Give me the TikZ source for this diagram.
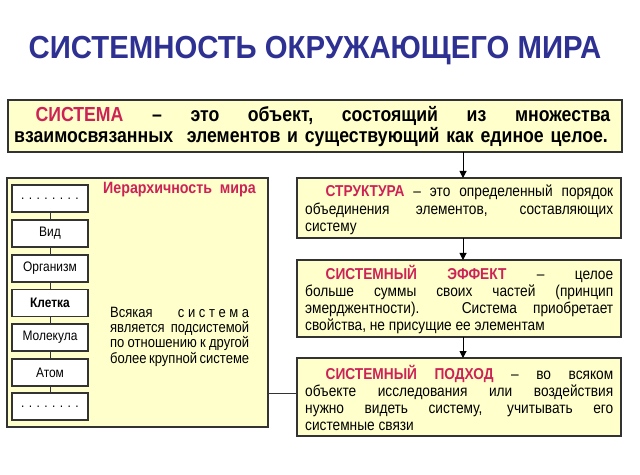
\documentclass[tikz,border=0pt]{standalone}
\usepackage{fontspec}
\setmainfont[FakeStretch=0.87]{Liberation Sans}
\newfontfamily\titlefont[FakeStretch=0.92]{Liberation Sans}
\usetikzlibrary{arrows.meta}
\definecolor{ttl}{HTML}{2E3192}
\definecolor{crim}{HTML}{CC2255}
\definecolor{boxfill}{HTML}{FFFFCC}
\definecolor{bord}{HTML}{333333}
\tikzset{
  panel/.style={draw=bord, line width=1.3bp, fill=boxfill},
  level/.style={draw=bord, line width=1.1bp, fill=white, minimum width=76bp, minimum height=27bp, inner sep=0pt, font=\fontsize{13.8}{15}\selectfont},
  link/.style={draw=bord, line width=1bp},
  arr/.style={draw=black, line width=1bp, -{Triangle[length=7bp,width=7bp]}},
  rtext/.style={text width=308bp, align=justify, inner sep=0pt, font=\fontsize{15.8}{17.2}\selectfont, anchor=north west},
}
\newcommand{\hl}[1]{{\color{crim}\bfseries #1}}
\begin{document}
\begin{tikzpicture}[x=1bp,y=-1bp]
\useasboundingbox (0,0) rectangle (640,475);
\fill[white] (0,0) rectangle (640,475);
% title
\node[font=\titlefont\fontsize{32}{34}\selectfont\bfseries, text=ttl, inner sep=0pt] (title) at (315,51) {СИСТЕМНОСТЬ ОКРУЖАЮЩЕГО МИРА};
% top box
\path[panel] (8,100) rectangle (622,152);
\node[inner sep=0pt, minimum width=614bp, minimum height=52bp, anchor=north west] (top) at (8,100) {};
\node[text width=596bp, align=left, inner sep=0pt, font=\fontsize{20.4}{21}\selectfont\bfseries, anchor=north west] (toptext) at (14,106)
 {\hspace*{1.05em}\hl{СИСТЕМА}\hfill–\hfill это\hfill объект,\hfill состоящий\hfill из\hfill множества\\
  взаимосвязанных\ \ элементов и существующий как единое целое.};
% left panel
\path[panel] (7,178) rectangle (268,427);
\node[inner sep=0pt, minimum width=261bp, minimum height=249bp, anchor=north west] (left) at (7,178) {};
\node[level] (l1) at (50,198.5) {. . . . . . . .};
\node[level] (l2) at (50,233.5) {Вид};
\node[level] (l3) at (50,268.5) {Организм};
\node[level, font=\fontsize{13.8}{15}\selectfont\bfseries] (l4) at (50,303) {Клетка};
\node[level] (l5) at (50,337.5) {Молекула};
\node[level] (l6) at (50,372.5) {Атом};
\node[level] (l7) at (50,406.5) {. . . . . . . .};
\draw[link] (l1) -- (l2) (l2) -- (l3) (l3) -- (l4) (l4) -- (l5) (l5) -- (l6) (l6) -- (l7);
\node[font=\fontsize{16.4}{18}\selectfont\bfseries, text=crim, inner sep=0pt, anchor=west] (hier) at (103,190) {Иерархичность\ \ мира};
\node[text width=139bp, align=justify, inner sep=0pt, font=\fontsize{15}{15.3}\selectfont, anchor=north west] (every) at (110,307)
 {Всякая\hfill с и с т е м а\\
  является\hfill подсистемой\\
  по отношению к другой\\
  более крупной системе};
% right panels
\path[panel] (297,178) rectangle (621,238);
\node[inner sep=0pt, minimum width=324bp, minimum height=60bp, anchor=north west] (struct) at (297,178) {};
\node[rtext] (structt) at (305,185)
 {\hspace*{1.3em}\hl{СТРУКТУРА} – это определенный порядок\linebreak
  объединения элементов, составляющих\linebreak
  систему};
\path[panel] (297,260) rectangle (621,337);
\node[inner sep=0pt, minimum width=324bp, minimum height=77bp, anchor=north west] (effect) at (297,260) {};
\node[rtext] (effectt) at (305,265)
 {\hspace*{1.3em}\hl{СИСТЕМНЫЙ ЭФФЕКТ} – целое\linebreak
  больше суммы своих частей (принцип\linebreak
  эмерджентности). Система приобретает\linebreak
  свойства, не присущие ее элементам};
\path[panel] (297,358) rectangle (621,436);
\node[inner sep=0pt, minimum width=324bp, minimum height=78bp, anchor=north west] (appr) at (297,358) {};
\node[rtext] (apprt) at (305,365)
 {\hspace*{1.3em}\hl{СИСТЕМНЫЙ ПОДХОД} – во всяком\linebreak
  объекте исследования или воздействия\linebreak
  нужно видеть систему, учитывать его\linebreak
  системные связи};
% connectors
\draw[arr] (top.south -| 463,0) -- (struct.north -| 463,0);
\draw[arr] (struct.south -| 463,0) -- (effect.north -| 463,0);
\draw[arr] (effect.south -| 463,0) -- (appr.north -| 463,0);
\draw[link] (left.east |- 0,393) -- (appr.west |- 0,393);
\end{tikzpicture}
\end{document}
